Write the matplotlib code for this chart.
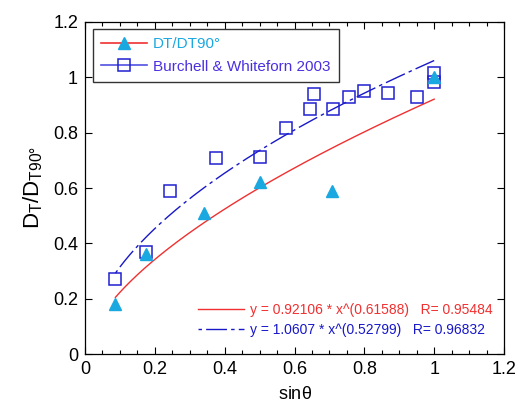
import numpy as np
import matplotlib
matplotlib.use("Agg")
import matplotlib.pyplot as plt
from matplotlib.lines import Line2D
from matplotlib.ticker import MultipleLocator

plt.rcParams['font.family'] = ['Liberation Sans', 'DejaVu Sans']
plt.rcParams['mathtext.fontset'] = 'custom'
plt.rcParams['mathtext.rm'] = 'Liberation Sans'

# DT/DT90 measurements
dt_x = [0.087, 0.174, 0.342, 0.5, 0.707, 1.0]
dt_y = [0.18, 0.36, 0.51, 0.62, 0.59, 1.0]

# Burchell & Whiteforn 2003
bw_x = [0.087, 0.174, 0.243, 0.375, 0.501, 0.576, 0.643, 0.657, 0.71,
        0.756, 0.798, 0.868, 0.952, 1.0, 1.0]
bw_y = [0.27, 0.37, 0.59, 0.708, 0.713, 0.818, 0.887, 0.938, 0.887,
        0.93, 0.952, 0.943, 0.93, 0.984, 1.014]

# power-law fits y = a * x^b
fit_dt = (0.92106, 0.61588, 0.95484)
fit_bw = (1.0607, 0.52799, 0.96832)

red = '#f03030'
cyan = '#1aa8e0'
blue = '#1818c8'
violet = '#4a30e0'
bw_dash = (2.5, 3, 15, 3)

fig = plt.figure(figsize=(5.19, 4.05), dpi=100)
ax = fig.add_axes([0.1638, 0.1259, 0.8073, 0.8198])

xs = np.linspace(min(dt_x), 1.0, 200)
ax.plot(xs, fit_dt[0] * xs ** fit_dt[1], color=red, lw=1.0)
ax.plot(xs, fit_bw[0] * xs ** fit_bw[1], color=blue, lw=1.0, dashes=bw_dash)

ax.plot(bw_x, bw_y, ls='none', marker='s', ms=8.5, mfc='none', mec='#2020d0', mew=1.1)
ax.plot(dt_x, dt_y, ls='none', marker='^', ms=8, color=cyan, mec=cyan)

ax.set_xlim(0, 1.2)
ax.set_ylim(0, 1.2)
ax.xaxis.set_major_locator(MultipleLocator(0.2))
ax.xaxis.set_minor_locator(MultipleLocator(0.05))
ax.yaxis.set_major_locator(MultipleLocator(0.2))
ax.xaxis.set_major_formatter(plt.FuncFormatter(lambda v, p: '%g' % round(v, 2)))
ax.yaxis.set_major_formatter(plt.FuncFormatter(lambda v, p: '%g' % round(v, 2)))
ax.tick_params(which='both', direction='in', top=True, right=True, labelsize=13, width=0.8)
ax.tick_params(which='major', length=5, pad=5)
ax.tick_params(which='minor', length=3)
for s in ax.spines.values():
    s.set_linewidth(0.9)

ax.set_xlabel(r'sin$\mathregular{\theta}$', fontsize=13, labelpad=6)
ax.set_ylabel(r'$\mathregular{D_T/D_{T90°}}$', fontsize=16, labelpad=6)

handles = [
    Line2D([], [], color=red, lw=1.2, marker='^', ms=8, mfc=cyan, mec=cyan),
    Line2D([], [], color='#5050e0', lw=1.2, marker='s', ms=8.5, mfc='none', mec='#2020d0', mew=1.1),
]
leg = ax.legend(handles, ['DT/DT90°', 'Burchell & Whiteforn 2003'],
                loc='upper left', bbox_to_anchor=(0.018, 0.979), borderaxespad=0,
                fontsize=11, labelcolor=[cyan, violet], fancybox=False,
                edgecolor='#333333', framealpha=1, handlelength=3.0,
                handletextpad=0.4, borderpad=0.55, labelspacing=0.55)
leg.get_frame().set_linewidth(1.0)
ax.add_artist(leg)

fit_handles = [
    Line2D([], [], color=red, lw=1.0),
    Line2D([], [], color=blue, lw=1.0, dashes=bw_dash),
]
fit_labels = ['y = %.5f * x^(%.5f)   R= %.5f' % fit_dt,
              'y = %.4f * x^(%.5f)   R= %.5f' % fit_bw]
ax.legend(fit_handles, fit_labels, loc='lower right', bbox_to_anchor=(0.985, 0.035),
          borderaxespad=0, frameon=False, fontsize=10, labelcolor=[red, blue],
          handlelength=3.3, handletextpad=0.4, labelspacing=0.45)

fig.savefig('out.png', dpi=100)
